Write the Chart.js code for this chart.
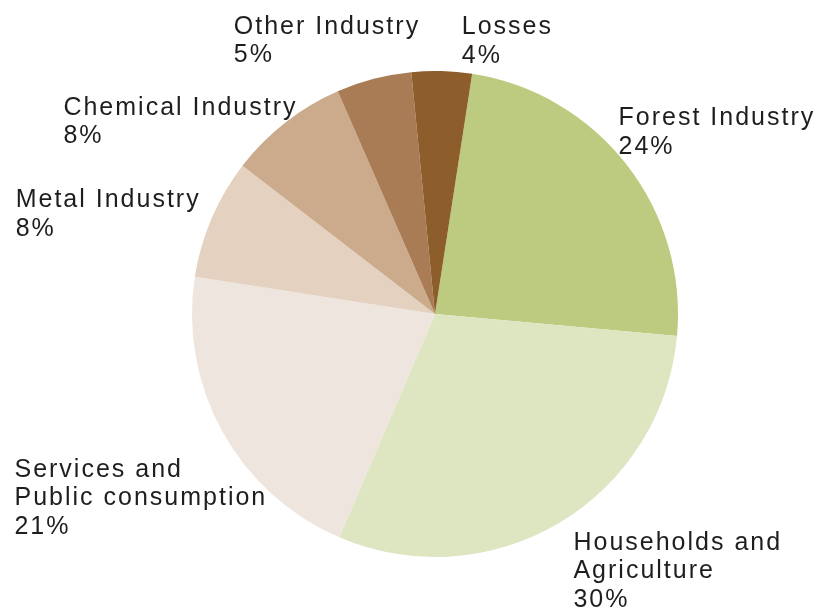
<!DOCTYPE html>
<html>
<head>
<meta charset="utf-8">
<script src="https://cdn.jsdelivr.net/npm/chart.js@4.4.0/dist/chart.umd.min.js"></script>
<style>
  html, body { margin: 0; padding: 0; background: #fff; }
  #energyPie { display: block; }
</style>
</head>
<body>
<canvas id="energyPie" width="816" height="612"></canvas>
<script>
// Consumption shares, clockwise from the top
const categories = [
    ['Forest Industry'],
    ['Households and', 'Agriculture'],
    ['Services and', 'Public consumption'],
    ['Metal Industry'],
    ['Chemical Industry'],
    ['Other Industry'],
    ['Losses']
];
const shares = [24, 30, 21, 8, 8, 5, 4];
const sliceColors = ['#bccb7f', '#dde5c1', '#eee5df', '#e4d1bf', '#cbab8b', '#a97c55', '#8d5d2b'];

// where each label block sits relative to the outer midpoint of its slice
const labelOffsets = [
    [-8, -39], [14, 27], [-208, 45], [-196, -11], [-222, -8], [-140, -45], [20, -37]
];

const sliceLabels = {
    id: 'sliceLabels',
    afterDatasetsDraw(chart) {
        const ctx = chart.ctx;
        const meta = chart.getDatasetMeta(0);
        const total = shares.reduce((a, b) => a + b, 0);
        ctx.save();
        ctx.font = '25px "Liberation Sans", Arial, sans-serif';
        ctx.letterSpacing = '2px';
        ctx.fillStyle = '#1e1e1e';
        ctx.textAlign = 'left';
        ctx.textBaseline = 'alphabetic';
        meta.data.forEach((arc, i) => {
            const { x, y, startAngle, endAngle, outerRadius } = arc.getProps(['x', 'y', 'startAngle', 'endAngle', 'outerRadius'], true);
            const mid = (startAngle + endAngle) / 2;
            const ax = x + Math.cos(mid) * outerRadius + labelOffsets[i][0];
            const ay = y + Math.sin(mid) * outerRadius + labelOffsets[i][1];
            const lines = categories[i].concat(Math.round(shares[i] / total * 100) + '%');
            lines.forEach((line, j) => ctx.fillText(line, ax, ay + j * 28.5));
        });
        ctx.restore();
    }
};

new Chart(document.getElementById('energyPie'), {
    type: 'pie',
    data: {
        labels: categories,
        datasets: [{
            data: shares,
            backgroundColor: sliceColors,
            borderWidth: 0
        }]
    },
    options: {
        responsive: false,
        animation: false,
        rotation: 8.8,
        layout: { padding: { left: 192, right: 138, top: 71, bottom: 55 } },
        plugins: {
            legend: { display: false },
            tooltip: { enabled: false }
        }
    },
    plugins: [sliceLabels]
});
</script>
</body>
</html>
